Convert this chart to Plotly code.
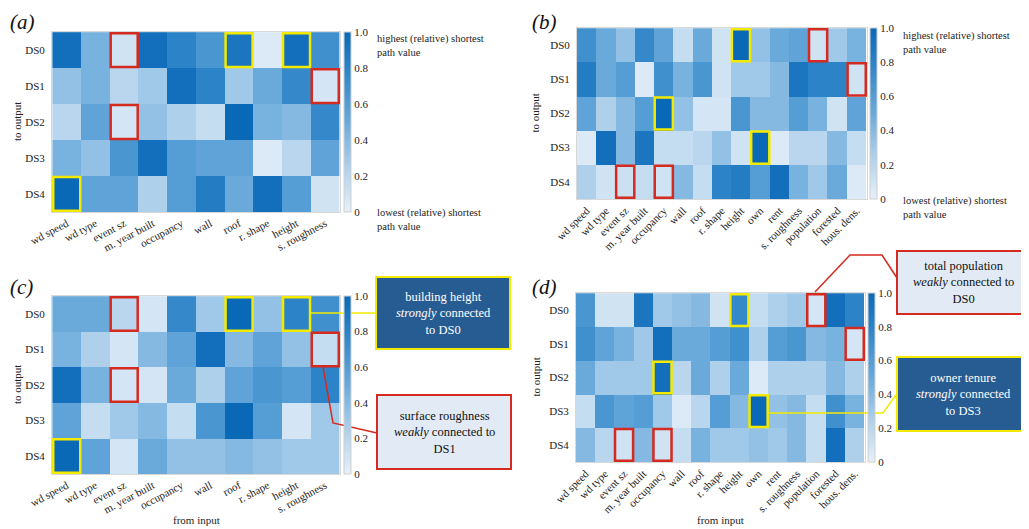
import plotly.graph_objects as go

# page body has an 8px margin: figure covers screen pixels 8..1029 x 8..529
OFF = 8
W, H = 1029 - OFF, 529 - OFF

rows = ["DS0", "DS1", "DS2", "DS3", "DS4"]
inputs_10 = ["wd speed", "wd type", "event sz", "m. year built", "occupancy",
             "wall", "roof", "r. shape", "height", "s. roughness"]
inputs_15 = ["wd speed", "wd type", "event sz", "m. year built", "occupancy",
             "wall", "roof", "r. shape", "height", "own", "rent",
             "s. roughness", "population", "forested", "hous. dens."]

vals_a = [
    [0.95, 0.45, 0.10, 0.95, 0.80, 0.65, 0.90, 0.05, 0.95, 0.70],
    [0.35, 0.45, 0.20, 0.30, 0.95, 0.80, 0.30, 0.50, 0.75, 0.08],
    [0.20, 0.55, 0.08, 0.35, 0.25, 0.15, 1.00, 0.45, 0.40, 0.75],
    [0.45, 0.35, 0.65, 0.95, 0.60, 0.55, 0.55, 0.05, 0.20, 0.55],
    [1.00, 0.55, 0.55, 0.25, 0.60, 0.85, 0.50, 0.95, 0.60, 0.10],
]
vals_b = [
    [0.70, 0.50, 0.35, 0.75, 0.55, 0.15, 0.50, 0.10, 1.00, 0.35, 0.50, 0.55, 0.10, 0.30, 0.45],
    [0.85, 0.50, 0.60, 0.05, 0.70, 0.45, 0.65, 0.10, 0.30, 0.30, 0.40, 0.90, 0.80, 0.80, 0.10],
    [0.55, 0.25, 0.40, 0.60, 1.00, 0.35, 0.08, 0.08, 0.65, 0.40, 0.40, 0.60, 0.45, 0.10, 0.55],
    [0.05, 0.95, 0.40, 0.90, 0.15, 0.15, 0.20, 0.35, 0.10, 1.00, 0.05, 0.20, 0.20, 0.40, 0.15],
    [0.25, 0.10, 0.12, 0.15, 0.10, 0.40, 0.15, 0.80, 0.85, 0.60, 0.95, 0.45, 0.30, 0.50, 0.05],
]
vals_c = [
    [0.50, 0.50, 0.20, 0.08, 0.75, 0.30, 1.00, 0.35, 0.80, 0.70],
    [0.45, 0.25, 0.08, 0.40, 0.55, 0.95, 0.40, 0.55, 0.35, 0.15],
    [0.95, 0.45, 0.08, 0.08, 0.50, 0.25, 0.55, 0.65, 0.60, 0.80],
    [0.55, 0.15, 0.30, 0.40, 0.15, 0.65, 1.00, 0.60, 0.08, 0.30],
    [1.00, 0.55, 0.08, 0.50, 0.35, 0.35, 0.40, 0.35, 0.30, 0.30],
]
vals_d = [
    [0.65, 0.10, 0.10, 0.90, 0.30, 0.35, 0.40, 0.10, 0.75, 0.15, 0.25, 0.30, 0.08, 0.95, 0.80],
    [0.70, 0.55, 0.45, 0.30, 0.95, 0.50, 0.50, 0.60, 0.70, 0.25, 0.60, 0.65, 0.40, 0.45, 0.08],
    [0.50, 0.30, 0.30, 0.30, 0.95, 0.20, 0.50, 0.25, 0.50, 0.05, 0.25, 0.25, 0.25, 0.40, 0.25],
    [0.15, 0.65, 0.55, 0.60, 0.30, 0.05, 0.20, 0.60, 0.40, 1.00, 0.35, 0.40, 0.15, 0.70, 0.45],
    [0.40, 0.20, 0.10, 0.40, 0.10, 0.15, 0.45, 0.30, 0.30, 0.35, 0.30, 0.40, 0.15, 0.95, 0.25],
]

# highlighted cells: (row, input)
strong_10 = [("DS0", "roof"), ("DS0", "height"), ("DS4", "wd speed")]
weak_10 = [("DS0", "event sz"), ("DS1", "s. roughness"), ("DS2", "event sz")]
strong_15 = [("DS0", "height"), ("DS2", "occupancy"), ("DS3", "own")]
weak_15 = [("DS0", "population"), ("DS1", "hous. dens."), ("DS4", "event sz"), ("DS4", "occupancy")]

cbar_ticks = [0, 0.2, 0.4, 0.6, 0.8, 1.0]
cbar_ticktext = ["0", "0.2", "0.4", "0.6", "0.8", "1.0"]

FONT = "Liberation Serif"
YEL = "#f3ea00"
RED = "#d42a1f"
cscale = [[0, "#e6f0f9"], [0.25, "#aed0eb"], [0.5, "#6aaadb"], [0.75, "#3589cb"], [1, "#0a69b7"]]


def px(x):
    return (x - OFF) / W


def py(y):
    return 1 - (y - OFF) / H


# panel boxes in screen pixels: (left, top, right, bottom)
panels = [
    dict(name="a", cols=inputs_10, z=vals_a, box=(52, 32, 340, 212), strong=strong_10, weak=weak_10,
         cb=(344, 32, 212), angle=-28, xtitle=False),
    dict(name="b", cols=inputs_15, z=vals_b, box=(577, 28, 867, 199), strong=strong_15, weak=weak_15,
         cb=(870, 28, 199), angle=-45, xtitle=False),
    dict(name="c", cols=inputs_10, z=vals_c, box=(52, 296, 340, 474), strong=strong_10, weak=weak_10,
         cb=(344, 296, 474), angle=-28, xtitle=True),
    dict(name="d", cols=inputs_15, z=vals_d, box=(576, 293, 865, 462), strong=strong_15, weak=weak_15,
         cb=(868, 293, 462), angle=-45, xtitle=True),
]

fig = go.Figure()
layout = dict(template="none", width=W, height=H, margin=dict(l=0, r=0, t=0, b=0, autoexpand=False),
              paper_bgcolor="white", plot_bgcolor="white",
              font=dict(family=FONT, color="#222", size=11), showlegend=False)
shapes = []
annotations = []

for k, p in enumerate(panels, start=1):
    sfx = "" if k == 1 else str(k)
    l, t, r, b = p["box"]
    fig.add_trace(go.Heatmap(z=p["z"], x=p["cols"], y=rows, coloraxis="coloraxis" + sfx,
                             xaxis="x" + sfx, yaxis="y" + sfx, xgap=0, ygap=0))
    layout["xaxis" + sfx] = dict(domain=[px(l), px(r)], anchor="y" + sfx, tickangle=p["angle"],
                                 automargin=False,
                                 tickfont=dict(size=11, family=FONT), ticks="", showgrid=False,
                                 zeroline=False, showline=True, linecolor="#d8d8d8", mirror=True)
    layout["yaxis" + sfx] = dict(domain=[py(b), py(t)], anchor="x" + sfx, autorange="reversed",
                                 automargin=False, ticklabelstandoff=4,
                                 tickfont=dict(size=11, family=FONT), ticks="", showgrid=False,
                                 zeroline=False, showline=True, linecolor="#d8d8d8", mirror=True)
    cx, ct, cb = p["cb"]
    layout["coloraxis" + sfx] = dict(
        cmin=0, cmax=1, colorscale=cscale,
        colorbar=dict(x=px(cx), xanchor="left", y=py(ct), yanchor="top", len=(cb - ct) / H,
                      lenmode="fraction", thickness=7, thicknessmode="pixels",
                      outlinecolor="#cfcfcf", outlinewidth=1, xpad=0, ypad=0,
                      tickvals=cbar_ticks, ticktext=cbar_ticktext, ticks="",
                      tickfont=dict(size=11, family=FONT, color="#222")))
    # highlight rectangles
    for cells, col in ((p["strong"], YEL), (p["weak"], RED)):
        for rname, cname in cells:
            ri = rows.index(rname)
            ci = p["cols"].index(cname)
            shapes.append(dict(type="rect", xref="x" + sfx, yref="y" + sfx,
                               x0=ci - 0.47, x1=ci + 0.47, y0=ri - 0.47, y1=ri + 0.47,
                               line=dict(color=col, width=2.5), fillcolor="rgba(0,0,0,0)"))
    # panel label
    lab_x = 8 if p["name"] in ("a", "c") else 530
    lab_y = 8 if p["name"] in ("a", "b") else 273
    annotations.append(dict(text="<i>(%s)</i>" % p["name"], xref="paper", yref="paper",
                            x=px(lab_x), y=py(lab_y), xanchor="left", yanchor="top",
                            showarrow=False, font=dict(size=21, family=FONT, color="#111")))
    # axis titles
    ytx = 17 if p["name"] in ("a", "c") else 535
    annotations.append(dict(text="to output", xref="paper", yref="paper", textangle=-90,
                            x=px(ytx), y=py((t + b) / 2), xanchor="center", yanchor="middle",
                            showarrow=False, font=dict(size=11, family=FONT, color="#222")))
    if p["xtitle"]:
        annotations.append(dict(text="from input", xref="paper", yref="paper",
                                x=px((l + r) / 2), y=py(520), xanchor="center", yanchor="middle",
                                showarrow=False, font=dict(size=11, family=FONT, color="#222")))

# colorbar descriptions for top panels
for xx, yt, yb in ((375, 31, 205), (901, 28, 193)):
    annotations.append(dict(text="highest (relative) shortest<br>path value", xref="paper", yref="paper",
                            x=px(xx), y=py(yt), xanchor="left", yanchor="top", align="left",
                            showarrow=False, font=dict(size=10.5, family=FONT, color="#222")))
    annotations.append(dict(text="lowest (relative) shortest<br>path value", xref="paper", yref="paper",
                            x=px(xx), y=py(yb), xanchor="left", yanchor="top", align="left",
                            showarrow=False, font=dict(size=10.5, family=FONT, color="#222")))

# callout boxes (screen pixel boxes)
callouts = [
    dict(box=(376, 277, 510, 349), fill="#275c92", line=YEL, color="white",
         text="building height<br><i>strongly</i> connected<br>to DS0"),
    dict(box=(377, 395, 511, 469), fill="#e2ebf5", line=RED, color="#111",
         text="surface roughness<br><i>weakly</i> connected to<br>DS1"),
    dict(box=(897, 251, 1040, 314), fill="#e2ebf5", line=RED, color="#111",
         text="total population<br><i>weakly</i> connected to<br>DS0"),
    dict(box=(897, 357, 1040, 431), fill="#275c92", line=YEL, color="white",
         text="owner tenure<br><i>strongly</i> connected<br>to DS3"),
]
for c in callouts:
    l, t, r, b = c["box"]
    shapes.append(dict(type="rect", xref="paper", yref="paper", x0=px(l), x1=px(r), y0=py(b), y1=py(t),
                       fillcolor=c["fill"], line=dict(color=c["line"], width=2)))
    cxm = (l + min(r, 1029)) / 2
    annotations.append(dict(text=c["text"], xref="paper", yref="paper", x=px(cxm), y=py((t + b) / 2),
                            xanchor="center", yanchor="middle", align="center", showarrow=False,
                            font=dict(size=12.5, family=FONT, color=c["color"])))

# leader lines
leaders = [
    ([(310, 313), (376, 313)], YEL),
    ([(323, 367), (333, 423), (377, 433)], RED),
    ([(815, 292), (850, 255), (882, 255), (897, 278)], RED),
    ([(768, 413), (883, 413), (896, 395)], YEL),
]
for pts, col in leaders:
    path = "M " + " L ".join("%f,%f" % (px(x), py(y)) for x, y in pts)
    shapes.append(dict(type="path", xref="paper", yref="paper", path=path,
                       line=dict(color=col, width=1.5)))

layout["shapes"] = shapes
layout["annotations"] = annotations
fig.update_layout(**layout)
fig.write_html("out.html")
